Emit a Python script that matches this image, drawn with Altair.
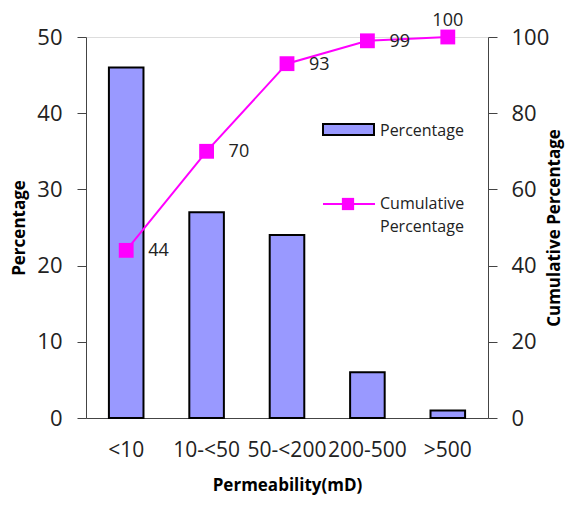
import altair as alt
import pandas as pd

categories = ["<10", "10-<50", "50-<200", "200-500", ">500"]
percentage = [46, 27, 24, 6, 1]
cumulative = [44, 70, 93, 99, 100]

df = pd.DataFrame({"cat": categories, "pct": percentage, "cum": cumulative})
df["lbl"] = df["cum"].astype(str)

FONT = "Open Sans"
x_enc = alt.X("cat:N", sort=categories, title="Permeability(mD)",
              scale=alt.Scale(paddingInner=0.57, paddingOuter=0.285),
              axis=alt.Axis(labelAngle=0, ticks=False, labelFontSize=21, labelPadding=21,
                            titleFontSize=17, titleFontWeight="bold", titlePadding=17,
                            domainColor="#444", labelColor="#222", titleColor="#000"))

bars = alt.Chart(df).mark_bar(color="#9999FF", stroke="#000", strokeWidth=2).encode(
    x=x_enc,
    y=alt.Y("pct:Q", title="Percentage", scale=alt.Scale(domain=[0, 50]),
            axis=alt.Axis(values=[0, 10, 20, 30, 40, 50], grid=False, orient="left",
                          tickSize=9, labelFontSize=22, labelPadding=15, titleFontSize=17,
                          titleFontWeight="bold", titlePadding=8, domainColor="#444",
                          tickColor="#444", labelColor="#222", titleColor="#000")),
)

cum_y = alt.Y("cum:Q", title="Cumulative Percentage", scale=alt.Scale(domain=[0, 100]),
              axis=alt.Axis(values=[0, 20, 40, 60, 80, 100], grid=False, orient="right",
                            tickSize=9, labelFontSize=22, labelPadding=14, titleFontSize=17,
                            titleFontWeight="bold", titlePadding=15, titleAngle=270,
                            domainColor="#444", tickColor="#444", labelColor="#222",
                            titleColor="#000"))

line = alt.Chart(df).mark_line(color="#FF00FF", strokeWidth=2).encode(x=alt.X("cat:N", sort=categories), y=cum_y)
pts = alt.Chart(df).mark_square(color="#FF00FF", size=220, opacity=1).encode(x=alt.X("cat:N", sort=categories), y="cum:Q")

lab_main = alt.Chart(df[df["cat"] != ">500"]).mark_text(
    align="left", baseline="middle", dx=22, dy=1, fontSize=18, font=FONT, color="#222"
).encode(x=alt.X("cat:N", sort=categories), y="cum:Q", text="lbl:N")
lab_last = alt.Chart(df[df["cat"] == ">500"]).mark_text(
    align="center", baseline="bottom", dy=-7, fontSize=18, font=FONT, color="#222"
).encode(x=alt.X("cat:N", sort=categories), y="cum:Q", text="lbl:N")

cum_layer = alt.layer(line, pts, lab_main, lab_last)

leg_df = pd.DataFrame({"k": [0]})
leg_bar = alt.Chart(leg_df).mark_rect(color="#9999FF", stroke="#000", strokeWidth=2).encode(
    x=alt.value(237), x2=alt.value(288), y=alt.value(87), y2=alt.value(98))
leg_bar_t = alt.Chart(leg_df).mark_text(align="left", baseline="middle", fontSize=16, font=FONT, color="#222").encode(
    x=alt.value(294), y=alt.value(94), text=alt.value("Percentage"))
leg_line = alt.Chart(leg_df).mark_rule(color="#FF00FF", strokeWidth=2).encode(
    x=alt.value(237), x2=alt.value(289), y=alt.value(167))
leg_pt = alt.Chart(leg_df).mark_square(color="#FF00FF", size=150, opacity=1).encode(
    x=alt.value(262), y=alt.value(167))
leg_line_t = alt.Chart(leg_df).mark_text(align="left", baseline="middle", fontSize=16, font=FONT,
                                          color="#222", lineHeight=23).encode(
    x=alt.value(294), y=alt.value(167), text=alt.value(["Cumulative", "Percentage"]))
legend = alt.layer(leg_bar, leg_bar_t, leg_line, leg_pt, leg_line_t)

chart = alt.layer(bars, cum_layer, legend).resolve_scale(y="independent").properties(
    width=402, height=381,
    autosize=alt.AutoSizeParams(type="none"),
    padding={"left": 78, "top": 29, "right": 77, "bottom": 78},
).configure_view(stroke="#444", strokeWidth=1).configure(font=FONT)

chart.save("out.html", embed_options={"renderer": "svg", "actions": False})
